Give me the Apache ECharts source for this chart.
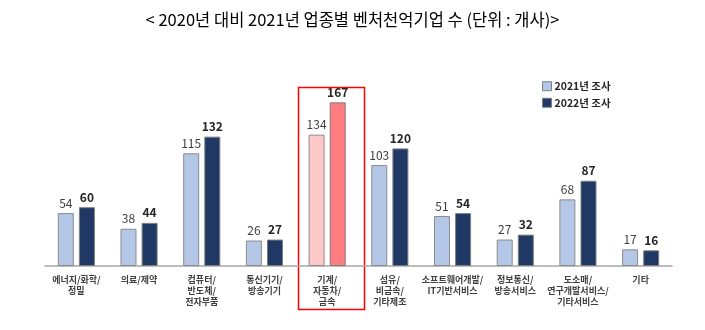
<!DOCTYPE html>
<html>
<head>
<meta charset="utf-8">
<script src="https://cdn.jsdelivr.net/npm/echarts@6/dist/echarts.min.js"></script>
<style>
  html, body { margin: 0; padding: 0; background: #fff; }
  #chart { width: 705px; height: 330px; }
</style>
</head>
<body>
<div id="chart"></div>
<script>
// Industry groups (x axis)
const categories = [
  '에너지/화학/\n정밀',
  '의료/제약',
  '컴퓨터/\n반도체/\n전자부품',
  '통신기기/\n방송기기',
  '기계/\n자동차/\n금속',
  '섬유/\n비금속/\n기타제조',
  '소프트웨어개발/\nIT기반서비스',
  '정보통신/\n방송서비스',
  '도소매/\n연구개발서비스/\n기타서비스',
  '기타'
];
const seriesNames = ['2021년 조사', '2022년 조사'];
const survey2021 = [54, 38, 115, 26, 134, 103, 51, 27, 68, 17];
const survey2022 = [60, 44, 132, 27, 167, 120, 54, 32, 87, 16];
const highlightIndex = 4;

const FONT = '"Noto Sans CJK KR", "Liberation Sans", sans-serif';
const colors = {
  light: '#b4c7e7', dark: '#1f3864',
  lightHi: '#ffc9c9', darkHi: '#ff7c80'
};

function buildData(values, base, hi) {
  return values.map((v, i) => i === highlightIndex
    ? { value: v, itemStyle: { color: hi } }
    : { value: v, itemStyle: { color: base } });
}

const chart = echarts.init(document.getElementById('chart'));
chart.setOption({
  animation: false,
  title: {
    text: '< 2020년 대비 2021년 업종별 벤처천억기업 수 (단위 : 개사)>',
    left: 'center', top: 6,
    textStyle: { fontFamily: FONT, fontSize: 16.5, fontWeight: 'normal', color: '#000' }
  },
  legend: {
    orient: 'vertical', left: 537, top: 76,
    itemWidth: 9, itemHeight: 9, itemGap: 6,
    icon: 'rect',
    textStyle: { fontFamily: FONT, fontSize: 10.5, fontWeight: 'bold', color: '#262626', padding: [0, 0, 0, -2] },
    data: seriesNames.map((n, i) => ({
      name: n,
      itemStyle: { color: i === 0 ? colors.light : colors.dark, borderColor: '#7f7f7f', borderWidth: 1 }
    }))
  },
  grid: { left: 45, right: 33, top: 70, bottom: 64 },
  xAxis: {
    type: 'category', data: categories,
    axisLine: { lineStyle: { color: '#a6a6a6', width: 1.5 } },
    axisTick: { show: false },
    axisLabel: {
      interval: 0, margin: 8, fontFamily: FONT, fontSize: 9, fontWeight: 'bold',
      color: '#404040', lineHeight: 11
    }
  },
  yAxis: { type: 'value', min: 0, max: 200, show: false, splitLine: { show: false } },
  series: [
    {
      name: seriesNames[0], type: 'bar', barWidth: 16, barGap: '32%',
      data: buildData(survey2021, colors.light, colors.lightHi),
      itemStyle: { borderColor: '#8c8c8c', borderWidth: 1 },
      label: { show: true, position: 'top', distance: 4, fontFamily: FONT, fontSize: 12, color: '#404040' }
    },
    {
      name: seriesNames[1], type: 'bar', barWidth: 16,
      data: buildData(survey2022, colors.dark, colors.darkHi),
      itemStyle: { borderColor: '#7f7f7f', borderWidth: 1 },
      label: { show: true, position: 'top', distance: 4, fontFamily: FONT, fontSize: 12, fontWeight: 'bold', color: '#262626' }
    }
  ]
});

// Red frame around the highlighted industry group
const cx = chart.convertToPixel({ xAxisIndex: 0 }, categories[highlightIndex]);
const topY = chart.convertToPixel({ yAxisIndex: 0 }, 183);
chart.setOption({
  graphic: [{
    type: 'rect', silent: true,
    shape: { x: Math.round(cx - 29) + 0.5, y: Math.round(topY) + 0.5, width: 66, height: 222 },
    style: { fill: 'none', stroke: '#ff0000', lineWidth: 1.5 }
  }]
});
</script>
</body>
</html>
